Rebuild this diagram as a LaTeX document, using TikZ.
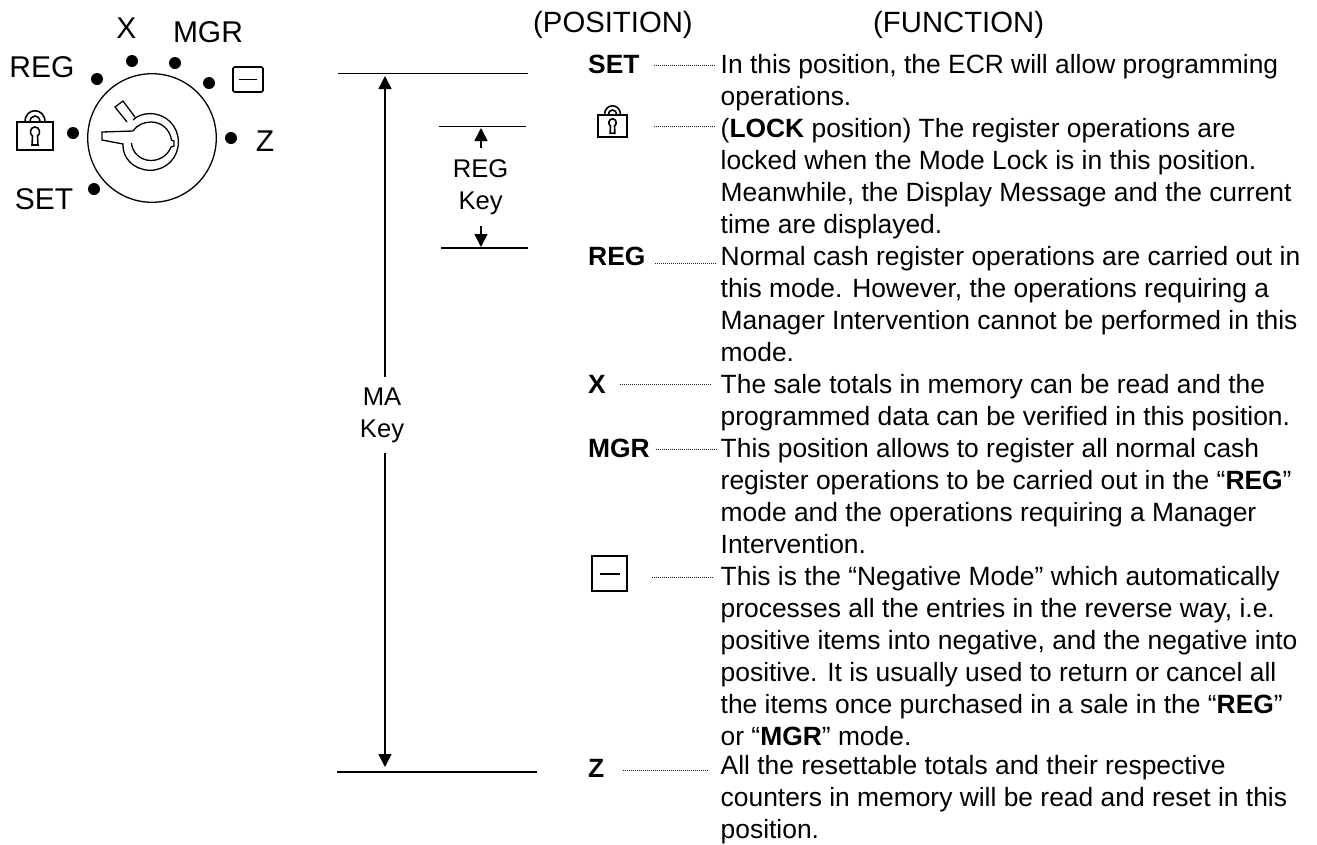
\documentclass[tikz,border=0pt]{standalone}
\usepackage{fontspec}
\setmainfont{Liberation Sans}
\usetikzlibrary{arrows.meta}
\newcommand{\firstline}{\rule{0pt}{22.4pt}}
\tikzset{
  x=1pt,y=-1pt,
  body/.style={anchor=north west,inner sep=0pt,align=left,font=\fontsize{26.4}{32}\selectfont},
  poslabel/.style={anchor=base west,inner sep=0pt,font=\fontsize{26.4}{32}\selectfont\bfseries},
  dimlabel/.style={anchor=north,inner sep=0pt,align=center,font=\fontsize{25.6}{32}\selectfont},
  heading/.style={anchor=base west,inner sep=0pt,font=\fontsize{29.3}{32}\selectfont},
  dial/.style={inner sep=0pt,font=\fontsize{30}{32}\selectfont},
  stud/.style={circle,fill=black,inner sep=0pt,minimum size=12pt},
  leader/.style={line width=1pt,dash pattern=on 1pt off 1pt,black!90},
  rule/.style={line width=1.7pt},
  dimarrow/.style={line width=1.6pt,-{Triangle[length=13pt,width=13pt]}},
  lockicon/.pic={
    \draw[line width=1.6pt] (-18,-14) rectangle (18,14);
    \draw[line width=1.6pt] (-10,-14) .. controls (-10,-29) and (10,-29) .. (10,-14);
    \draw[line width=1.6pt] (-5,-14) .. controls (-5,-22) and (5,-22) .. (5,-14);
    \draw[line width=1.6pt] (-2.5,0) .. controls (-6,-2) and (-5,-9) .. (0,-9) .. controls (5,-9) and (6,-2) .. (2.5,0) -- (3,9) -- (-3,9) -- cycle;
  },
  negicon/.pic={
    \draw[line width=1.6pt,rounded corners=1.5pt] (-15,-12.5) rectangle (15,12.5);
    \draw[line width=1.6pt] (-9,0) -- (9,0);
  },
  negbox/.pic={
    \draw[line width=2pt] (-17.5,-17.5) rectangle (17.5,17.5);
    \draw[line width=2pt] (-10,0) -- (10,0);
  }
}
\begin{document}
\begin{tikzpicture}
\useasboundingbox (0,0) rectangle (1317,844);
% dial
\node[dial] (lX) at (126.5,28.5) {X};
\node[dial] (lMGR) at (208,32) {MGR};
\node[dial] (lREG) at (42,67) {REG};
\node[dial] (lZ) at (265,141) {Z};
\node[dial] (lSET) at (44,199) {SET};
\node[stud] (s1) at (132,61) {};
\node[stud] (s2) at (175,63) {};
\node[stud] (s3) at (209,83) {};
\node[stud] (s4) at (231,138) {};
\node[stud] (s5) at (94,189) {};
\node[stud] (s6) at (73,133) {};
\node[stud] (s7) at (97,79) {};
\draw[line width=1.3pt] (152,138) circle (64.3);
% key pointer
\draw[line width=1.3pt] (127,122) -- (115,107) -- (123,101) -- (135,117);
% key ring with lever
\draw[line width=1.3pt] (133,131) -- (102,132) -- (102,140) -- (123,144)
  .. controls (122,158) and (134,170) .. (150,170.3)
  .. controls (166,170.3) and (178.4,158) .. (178.4,142)
  .. controls (178.4,126) and (166,113.6) .. (150,113.6)
  .. controls (143,113.6) and (137,116) .. (133,120);
\draw[line width=1.3pt] (133,131) .. controls (137,125) and (144,122) .. (151,122)
  .. controls (162,122) and (170,130) .. (171.5,140) -- (174,141) -- (174,146) -- (171,147)
  .. controls (168,155) and (160,160.5) .. (151,160.5)
  .. controls (140,160.5) and (132,152) .. (131.5,143);
\pic at (35,136) {lockicon};
\pic at (248,79.5) {negicon};
% dimension lines
\coordinate (t1) at (338,73.5); \coordinate (t2) at (528,73.5);
\coordinate (b1) at (337,772); \coordinate (b2) at (537,772);
\coordinate (r1) at (439,126.5); \coordinate (r2) at (526,126.5);
\coordinate (q1) at (441,248); \coordinate (q2) at (528,248);
\draw[rule] (t1) -- (t2);
\draw[rule] (b1) -- (b2);
\draw[rule] (r1) -- (r2);
\draw[rule] (q1) -- (q2);
\node[dimlabel] (ma) at (382,382.6) {\firstline MA\\Key};
\node[dimlabel] (rk) at (480.6,154.6) {\firstline REG\\Key};
\coordinate (ta) at (385,76); \coordinate (ba) at (385,767);
\coordinate (ma1) at (385,377); \coordinate (ma2) at (385,453);
\draw[dimarrow] (ma1) -- (ta);
\draw[dimarrow] (ma2) -- (ba);
\coordinate (ra) at (481,128); \coordinate (qa) at (481,247);
\coordinate (ra1) at (481,148); \coordinate (qa1) at (481,226);
\draw[dimarrow] (ra1) -- (ra);
\draw[dimarrow] (qa1) -- (qa);
% headings
\node[heading] (hp) at (533,32.5) {(POSITION)};
\node[heading] (hf) at (873,32.5) {(FUNCTION)};
% function blocks (baseline = top + 22.4)
\node[body] (f1) at (720.5,50.6) {\firstline In this position, the ECR will allow programming\\operations.};
\node[body] (f2) at (720.5,114.6) {\firstline (\textbf{LOCK} position) The register operations are\\locked when the Mode Lock is in this position.\\Meanwhile, the Display Message and the current\\time are displayed.};
\node[body] (f3) at (720.5,242.6) {\firstline Normal cash register operations are carried out in\\this mode.  However, the operations requiring a\\Manager Intervention cannot be performed in this\\mode.};
\node[body] (f4) at (720.5,370.6) {\firstline The sale totals in memory can be read and the\\programmed data can be verified in this position.};
\node[body] (f5) at (720.5,434.6) {\firstline This position allows to register all normal cash\\register operations to be carried out in the “\textbf{REG}”\\mode and the operations requiring a Manager\\Intervention.};
\node[body] (f6) at (720.5,562.6) {\firstline This is the “Negative Mode” which automatically\\processes all the entries in the reverse way, i.e.\\positive items into negative, and the negative into\\positive.  It is usually used to return or cancel all\\the items once purchased in a sale in the “\textbf{REG}”\\or “\textbf{MGR}” mode.};
\node[body] (f7) at (720.5,752) {\firstline All the resettable totals and their respective\\counters in memory will be read and reset in this\\position.};
% position labels
\node[poslabel] (pSET) at (588,73) {SET};
\node[poslabel] (pREG) at (588,265) {REG};
\node[poslabel] (pX) at (588,393) {X};
\node[poslabel] (pMGR) at (588,457) {MGR};
\node[poslabel] (pZ) at (588,777) {Z};
\pic[scale=.8] at (612.5,126) {lockicon};
\pic at (609.5,573.5) {negbox};
% leaders
\coordinate (la1) at (654,65); \coordinate (la2) at (716,65);
\coordinate (lb1) at (654,126); \coordinate (lb2) at (715,126);
\coordinate (lc1) at (655,263); \coordinate (lc2) at (716,263);
\coordinate (ld1) at (620,384); \coordinate (ld2) at (712,384);
\coordinate (le1) at (656,449); \coordinate (le2) at (717,449);
\coordinate (lf1) at (652,577); \coordinate (lf2) at (714,577);
\coordinate (lg1) at (623,770); \coordinate (lg2) at (709,770);
\foreach \n in {a,b,c,d,e,f,g}{
  \draw[leader] (l\n1) -- (l\n2);
}
\end{tikzpicture}
\end{document}
